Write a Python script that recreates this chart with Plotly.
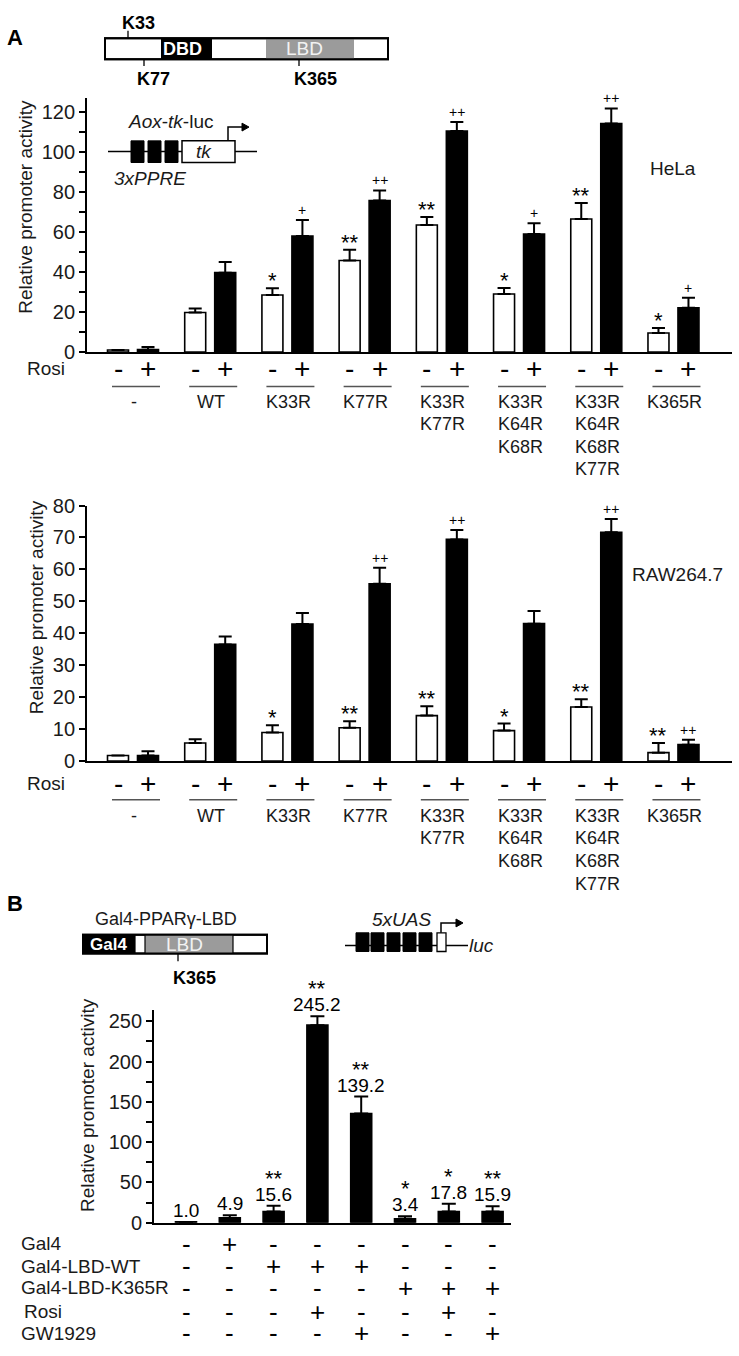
import plotly.graph_objects as go

W, H = 739, 1356
FONT = "Arial, 'Liberation Sans', sans-serif"
INK = "#000000"

# ---------------- data ----------------
mutants = ["-", "WT", "K33R", "K77R", "K33R<br>K77R", "K33R<br>K64R<br>K68R",
           "K33R<br>K64R<br>K68R<br>K77R", "K365R"]
rosi_signs = ["-", "+"]

hela_vehicle = [1.0, 19.8, 28.5, 45.8, 63.5, 29.0, 66.5, 9.5]
hela_vehicle_err = [0.0, 2.0, 3.4, 5.3, 4.0, 3.0, 8.0, 2.5]
hela_rosi = [1.2, 39.7, 58.0, 75.8, 110.5, 59.0, 114.3, 22.1]
hela_rosi_err = [1.3, 5.3, 8.0, 5.0, 4.5, 5.4, 7.5, 5.1]
hela_vehicle_sig = ["", "", "*", "**", "**", "*", "**", "*"]
hela_rosi_sig = ["", "", "+", "++", "++", "+", "++", "+"]
hela_ticks = [0, 20, 40, 60, 80, 100, 120]

raw_vehicle = [1.7, 5.6, 8.9, 10.4, 14.2, 9.5, 16.9, 2.6]
raw_vehicle_err = [0.0, 1.2, 2.3, 2.0, 2.9, 2.2, 2.4, 3.0]
raw_rosi = [1.7, 36.5, 42.9, 55.5, 69.4, 43.0, 71.6, 5.1]
raw_rosi_err = [1.3, 2.5, 3.4, 5.0, 2.9, 4.0, 4.2, 1.5]
raw_vehicle_sig = ["", "", "*", "**", "**", "*", "**", "**"]
raw_rosi_sig = ["", "", "", "++", "++", "", "++", "++"]
raw_ticks = [0, 10, 20, 30, 40, 50, 60, 70, 80]

b_activity = [1.0, 6.0, 14.0, 245.2, 135.5, 4.8, 14.0, 14.0]
b_err = [0.0, 3.2, 7.0, 11.0, 21.0, 3.2, 9.6, 6.4]
b_value_labels = ["1.0", "4.9", "15.6", "245.2", "139.2", "3.4", "17.8", "15.9"]
b_sig = ["", "", "**", "**", "**", "*", "*", "**"]
b_row_names = ["Gal4", "Gal4-LBD-WT", "Gal4-LBD-K365R", "Rosi", "GW1929"]
b_gal4 = ["-", "+", "-", "-", "-", "-", "-", "-"]
b_lbd_wt = ["-", "-", "+", "+", "+", "-", "-", "-"]
b_lbd_k365r = ["-", "-", "-", "-", "-", "+", "+", "+"]
b_rosi = ["-", "-", "-", "+", "-", "-", "+", "-"]
b_gw1929 = ["-", "-", "-", "-", "+", "-", "-", "+"]
b_table = [b_gal4, b_lbd_wt, b_lbd_k365r, b_rosi, b_gw1929]
b_ticks = [0, 50, 100, 150, 200, 250]


# ---------------- helpers ----------------
def PX(x):
    return x / W


def PY(y):
    return 1 - y / H


shapes = []
annotations = []


def text(x, y, s, size=19, xanchor="center", yanchor="middle", color=INK,
         xref="paper", yref="paper", angle=0, yshift=0):
    annotations.append(dict(
        x=PX(x) if xref == "paper" else x,
        y=PY(y) if yref == "paper" else y,
        xref=xref, yref=yref, text=s, showarrow=False,
        xanchor=xanchor, yanchor=yanchor, textangle=angle, yshift=yshift,
        font=dict(family=FONT, size=size, color=color)))


def rect(x0, y0, x1, y1, fill, line="black", lw=2):
    shapes.append(dict(type="rect", xref="paper", yref="paper",
                       x0=PX(x0), x1=PX(x1), y0=PY(y1), y1=PY(y0),
                       fillcolor=fill, line=dict(color=line, width=lw)))


def seg(x0, y0, x1, y1, color="black", lw=1.5):
    shapes.append(dict(type="line", xref="paper", yref="paper",
                       x0=PX(x0), x1=PX(x1), y0=PY(y0), y1=PY(y1),
                       line=dict(color=color, width=lw)))


def path(points, fill=None, lw=1.5, close=False):
    d = "M " + " L ".join(f"{PX(x):.5f},{PY(y):.5f}" for x, y in points)
    if close:
        d += " Z"
    shapes.append(dict(type="path", xref="paper", yref="paper", path=d,
                       fillcolor=fill if fill else "rgba(0,0,0,0)",
                       line=dict(color="black", width=lw)))


fig = go.Figure()

# ---------------- geometry ----------------
A_X0, A_X1 = 87, 732
A_C0, A_STEP = 133, 77.21       # pixel centre of group 0, group spacing
A_OFF, A_BW = 15 / A_STEP, 21 / A_STEP
A_RANGE = [(A_X0 - A_C0) / A_STEP, (A_X1 - A_C0) / A_STEP]

B_X0, B_X1 = 154, 511
B_C0, B_STEP = 186, 43.8
B_BW = 21 / B_STEP
B_RANGE = [(B_X0 - B_C0) / B_STEP, (B_X1 - B_C0) / B_STEP]

charts = [
    # (xaxis, yaxis, top px, bottom px, ymax, minor)
    ("x", "y", 88, 346.7, 127.25, 10),
    ("x2", "y2", 502.7, 762.3, 80, None),
    ("x3", "y3", 1015, 1231.7, 264.6, 25),
]

n = len(mutants)
pos = list(range(n))


def add_pair(xa, ya, veh, veh_err, rosi, rosi_err, vsig, rsig):
    fig.add_trace(go.Bar(
        x=[p - A_OFF for p in pos], y=veh, width=A_BW, xaxis=xa, yaxis=ya,
        marker=dict(color="white", line=dict(color="black", width=1.6)),
        error_y=dict(type="data", symmetric=False, array=veh_err,
                     arrayminus=[0] * n, color="black", thickness=2, width=6.5)))
    fig.add_trace(go.Bar(
        x=[p + A_OFF for p in pos], y=rosi, width=A_BW, xaxis=xa, yaxis=ya,
        marker=dict(color="black", line=dict(color="black", width=1.6)),
        error_y=dict(type="data", symmetric=False, array=rosi_err,
                     arrayminus=[0] * n, color="black", thickness=2, width=6.5)))
    for i in pos:
        if vsig[i]:
            text(i - A_OFF, veh[i] + veh_err[i], vsig[i], size=22, xref=xa,
                 yref=ya, yanchor="bottom", yshift=-7)
        if rsig[i]:
            text(i + A_OFF, rosi[i] + rosi_err[i], rsig[i], size=14, xref=xa,
                 yref=ya, yanchor="bottom", yshift=0)


add_pair("x", "y", hela_vehicle, hela_vehicle_err, hela_rosi, hela_rosi_err,
         hela_vehicle_sig, hela_rosi_sig)
add_pair("x2", "y2", raw_vehicle, raw_vehicle_err, raw_rosi, raw_rosi_err,
         raw_vehicle_sig, raw_rosi_sig)

# Panel B bars
fig.add_trace(go.Bar(
    x=pos, y=b_activity, width=B_BW, xaxis="x3", yaxis="y3",
    marker=dict(color="black", line=dict(color="black", width=1.6)),
    error_y=dict(type="data", symmetric=False, array=b_err,
                 arrayminus=[0] * n, color="black", thickness=2, width=7)))
for i in pos:
    top = b_activity[i] + b_err[i]
    text(i, top, b_value_labels[i], size=19, xref="x3", yref="y3",
         yanchor="bottom", yshift=-1)
    if b_sig[i]:
        text(i, top, b_sig[i], size=22, xref="x3", yref="y3",
             yanchor="bottom", yshift=13)

# ---------------- axes ----------------
layout_axes = {}
tick_sets = [hela_ticks, raw_ticks, b_ticks]
for k, (xa, ya, top, bot, ymax, minor) in enumerate(charts):
    xname = "xaxis" if xa == "x" else "xaxis" + xa[1:]
    yname = "yaxis" if ya == "y" else "yaxis" + ya[1:]
    if k < 2:
        xdom, xr = [PX(A_X0), PX(A_X1)], A_RANGE
    else:
        xdom, xr = [PX(B_X0), PX(B_X1)], B_RANGE
    layout_axes[xname] = dict(domain=xdom, range=xr, anchor=ya,
                              showline=True, linecolor="black", linewidth=1.8,
                              showticklabels=False, ticks="", showgrid=False,
                              zeroline=False, fixedrange=True)
    yd = dict(domain=[PY(bot), PY(top)], range=[0, ymax], anchor=xa,
              showline=True, linecolor="black", linewidth=1.8,
              ticks="outside", ticklen=6, tickwidth=1.5, tickcolor="black",
              tickvals=tick_sets[k], showgrid=False, zeroline=False,
              tickfont=dict(family=FONT, size=20, color="#1a1a1a"),
              fixedrange=True)
    if minor:
        yd["minor"] = dict(dtick=minor, tick0=0, ticks="outside", ticklen=6,
                           tickwidth=1.5, tickcolor="black", showgrid=False)
    layout_axes[yname] = yd

# y titles
for (xc, yc) in [(26, 199), (36, 606), (88, 1112)]:
    text(xc, yc, "Relative promoter activity", size=19, angle=-90,
         color="#1a1a1a")

# ---------------- Panel A labels under charts ----------------
for (rosi_y, line_y, row_y) in [(363, 381.7, 397), (785, 801.7, 818)]:
    text(25, rosi_y, "Rosi", size=19, xanchor="left", color="#1a1a1a")
    for i in pos:
        cx = A_C0 + A_STEP * i
        for j, s in enumerate(rosi_signs):
            text(cx + (j * 2 - 1) * 15, rosi_y, s, size=28)
        seg(cx - 24 + 3, line_y, cx + 24 + 3, line_y, color="#555555", lw=1.6)
        for r, s in enumerate(mutants[i].split("<br>")):
            text(cx + 1, row_y + 23 * r, s, size=18, color="#1a1a1a")

text(673, 160, "HeLa", size=19, color="#1a1a1a")
text(677, 573, "RAW264.7", size=19, color="#1a1a1a")

# ---------------- Panel A header schematic ----------------
text(15, 27, "<b>A</b>", size=22)
rect(105, 27.7, 388, 49, "white")
rect(161, 27.7, 212, 49, "black", lw=0)
rect(266, 27.7, 354, 49, "#9b9b9b", lw=0)
rect(105, 27.7, 388, 49, "rgba(0,0,0,0)")
text(182, 38.5, "<b>DBD</b>", size=18, color="white")
text(304, 38.5, "LBD", size=19, color="#f2f2f2")
seg(128, 20, 128, 27.7, lw=1.3)
seg(144, 49, 144, 56, lw=1.3)
seg(299, 49, 299, 56, lw=1.3)
text(138, 12, "<b>K33</b>", size=18)
text(153, 69, "<b>K77</b>", size=18)
text(315, 69, "<b>K365</b>", size=18)

# promoter reporter inside chart 1
text(170, 112, "<i>Aox</i>-<i>tk</i>-luc", size=19, color="#1a1a1a")
seg(108, 142.7, 257, 142.7, lw=1.5)
for bx in [131, 148, 165]:
    rect(bx, 132, bx + 13, 154, "black", lw=1)
rect(182, 132, 235, 154, "white", lw=1.5)
text(204, 143, "<i>tk</i>", size=19, color="#1a1a1a")
path([(228, 132), (228, 118), (243, 118)], lw=1.5)
path([(242, 114), (249, 118), (242, 122)], fill="black", lw=1, close=True)
text(150, 170, "<i>3xPPRE</i>", size=19, color="#1a1a1a")

# ---------------- Panel B header ----------------
text(15, 907, "<b>B</b>", size=22)
text(166, 923, "Gal4-PPARγ-LBD", size=18, color="#1a1a1a")
rect(83, 939, 267, 958, "white")
rect(83, 939, 135, 958, "black", lw=0)
rect(145, 939, 233, 958, "#9b9b9b", lw=0)
rect(83, 939, 267, 958, "rgba(0,0,0,0)")
seg(135, 939, 135, 958, lw=1.2)
seg(145, 939, 145, 958, lw=1.2)
seg(233, 939, 233, 958, lw=1.2)
text(108, 948.5, "<b>Gal4</b>", size=17, color="white")
text(184, 948.5, "LBD", size=19, color="#f2f2f2")
seg(178, 958, 178, 966, lw=1.3)
text(194, 983, "<b>K365</b>", size=18)

text(401, 923, "<i>5xUAS</i>", size=19, color="#1a1a1a")
seg(345, 950, 468, 950, lw=1.5)
for bx in [356, 371, 387, 403, 419]:
    rect(bx, 937, bx + 13, 956, "black", lw=1)
rect(437, 937, 446, 956, "white", lw=1.3)
path([(441, 937), (441, 927), (457, 927)], lw=1.5)
path([(456, 923), (463, 927), (456, 931)], fill="black", lw=1, close=True)
text(481, 950, "<i>luc</i>", size=19, color="#1a1a1a")

# ---------------- Panel B condition table ----------------
row_ys = [1253, 1276, 1298, 1322, 1344]
for r, name in enumerate(b_row_names):
    text(22 if name == "Rosi" else 19, row_ys[r], name, size=19,
         xanchor="left", color="#1a1a1a")
    for i in pos:
        text(B_C0 + B_STEP * i, row_ys[r], b_table[r][i], size=26)

fig.update_layout(
    width=W, height=H, autosize=False,
    margin=dict(l=0, r=0, t=0, b=0),
    paper_bgcolor="white", plot_bgcolor="white",
    showlegend=False, barmode="overlay",
    shapes=shapes, annotations=annotations,
    font=dict(family=FONT, color=INK),
    **layout_axes,
)

fig.write_html("out.html", config={"displayModeBar": False},
               post_script="document.body.style.margin='0px';")
